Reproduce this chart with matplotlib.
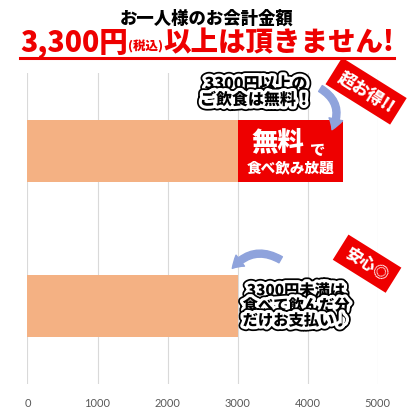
import matplotlib.pyplot as plt
import matplotlib.patheffects as pe
from matplotlib.patches import FancyArrowPatch

plt.rcParams['font.family'] = ['Noto Sans CJK JP', 'DejaVu Sans']

# datos
categorias = ['3300円以上', '3300円未満']
base = [3000, 3000]
extra = [1500, 0]
ticks = [0, 1000, 2000, 3000, 4000, 5000]

color_barra = '#f4b183'
rojo = '#ee0000'
azul = '#8fa3dc'
peso = 'black'

fig = plt.figure(figsize=(4.14, 4.14), dpi=100)
ax = fig.add_axes([0.0664, 0.070, 0.912 - 0.0664, 0.751])

y = range(len(categorias))
ax.barh(y, base, height=0.4, color=color_barra)
ax.barh(y, extra, left=base, height=0.4, color=rojo)

ax.set_xlim(0, 5000)
ax.set_ylim(1.5, -0.5)
ax.set_xticks(ticks)
ax.set_xticklabels([str(t) for t in ticks], family='Lato', fontsize=8, color='#595959')
ax.set_yticks([])
ax.tick_params(axis='x', length=0, pad=9)
ax.grid(axis='x', color='#d9d9d9', linewidth=0.8)
ax.set_axisbelow(True)
for s in ax.spines.values():
    s.set_visible(False)

# texto del recuadro rojo
ax.text(3579, -0.061, '無料', color='white', fontsize=19, fontweight=peso,
        ha='center', va='center')
ax.text(4150, -0.01, 'で', color='white', fontsize=11, fontweight=peso,
        ha='center', va='center')
ax.text(3764, 0.10, '食べ飲み放題', color='white', fontsize=10.5, fontweight=peso,
        ha='center', va='center')

contorno = [pe.Stroke(linewidth=7, foreground='black'),
            pe.Stroke(linewidth=4.5, foreground='white'), pe.Normal()]

ax.text(3264, -0.38, '3300円以上の\nご飲食は無料！', fontsize=11.5, fontweight=peso,
        ha='center', va='center', linespacing=1.0, path_effects=contorno, zorder=5)
ax.text(3836, 0.997, '3300円未満は\n食べて飲んだ分\nだけお支払い♪', fontsize=11, fontweight=peso,
        ha='center', va='center', linespacing=1.0, path_effects=contorno, zorder=5)

ax.text(4836, -0.384, '超お得!!', color='white', fontsize=12, fontweight=peso,
        ha='center', va='center', rotation=-32, rotation_mode='anchor', zorder=6,
        bbox=dict(boxstyle='square,pad=0.4', facecolor=rojo, edgecolor='none'))
ax.text(4850, 0.726, '安心◎', color='white', fontsize=11.5, fontweight=peso,
        ha='center', va='center', rotation=-32, rotation_mode='anchor', zorder=6,
        bbox=dict(boxstyle='square,pad=0.45', facecolor=rojo, edgecolor='none'))

# flechas
f1 = FancyArrowPatch((4150, -0.41), (4330, -0.12), connectionstyle='arc3,rad=-0.5',
                     arrowstyle='simple,head_width=10,head_length=8,tail_width=5',
                     color=azul, clip_on=False, zorder=4)
ax.add_patch(f1)
f2 = FancyArrowPatch((3650, 0.71), (2900, 0.77), connectionstyle='arc3,rad=0.45',
                     arrowstyle='simple,head_width=10,head_length=8,tail_width=5',
                     color=azul, clip_on=False, zorder=4)
ax.add_patch(f2)

# titulos
fig.text(0.5, 1 - 19 / 414, 'お一人様のお会計金額', fontsize=12.5, fontweight=peso,
         ha='center', va='center')

r = fig.canvas.get_renderer()
partes = [('3,300円', 20.5), ('(税込)', 9), ('以上は頂きません!', 19.8)]
textos = []
for s, fs in partes:
    textos.append(fig.text(0, 1 - 51 / 414, s, fontsize=fs, fontweight=peso,
                           color=rojo, ha='left', va='baseline'))
anchos = [t.get_window_extent(r).width for t in textos]
total = sum(anchos)
x0 = (414 - total) / 2
x = x0
for t, w in zip(textos, anchos):
    t.set_x(x / 414)
    x += w
fig.add_artist(plt.Line2D([x0 / 414, x / 414], [1 - 59 / 414] * 2, color=rojo, linewidth=2.2))

fig.savefig('out.png', dpi=100)
